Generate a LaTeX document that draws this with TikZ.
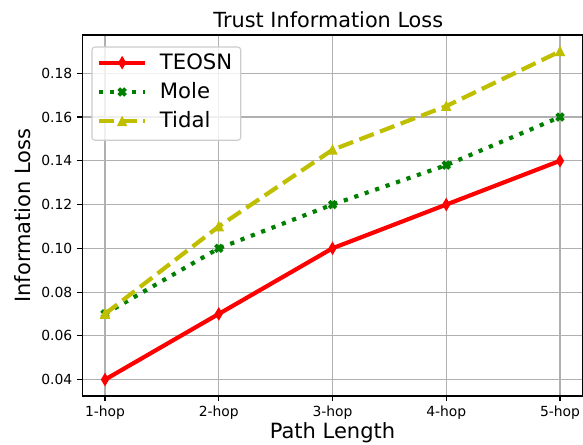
\documentclass[tikz,border=0pt]{standalone}
\usepackage{fontspec}
\setmainfont{DejaVu Sans}
\definecolor{mplyellow}{RGB}{191,191,0}
\definecolor{mplgreen}{RGB}{0,128,0}
\definecolor{gridgray}{HTML}{B0B0B0}
\definecolor{legedge}{HTML}{CCCCCC}
\tikzset{
  gridline/.style={gridgray, line width=1.1pt},
  spine/.style={black, line width=1.1pt, line cap=rect},
  tickmark/.style={black, line width=1.1pt},
  teosnline/.style={red, line width=4.17pt, line join=round, line cap=rect},
  moleline/.style={mplgreen, line width=4.17pt, line join=round, dash pattern=on 4.17pt off 6.88pt},
  tidalline/.style={mplyellow, line width=4.17pt, line join=round, dash pattern=on 15.43pt off 6.67pt},
  ticklab/.style={font=\fontsize{13.9}{16}\selectfont, inner sep=0pt},
  titlelab/.style={font=\fontsize{20.8}{25}\selectfont, inner sep=0pt},
  axislab/.style={font=\fontsize{21}{25}\selectfont, inner sep=0pt},
  leglab/.style={font=\fontsize{21.2}{25}\selectfont, inner sep=0pt, anchor=base west},
  legbox/.style={draw=legedge, fill=white, fill opacity=0.8, draw opacity=1, rounded corners=3pt, line width=1.1pt, inner sep=0pt},
  dmark/.pic={\path[fill=red, draw=red, line width=1.4pt, line join=miter] (0pt,5.5pt) -- (3.3pt,0pt) -- (0pt,-5.5pt) -- (-3.3pt,0pt) -- cycle;},
  xmark/.pic={\path[fill=mplgreen, draw=mplgreen, line width=1.2pt, rotate=45]
     (1.3pt,4.2pt) -- (1.3pt,1.3pt) -- (4.2pt,1.3pt) -- (4.2pt,-1.3pt) -- (1.3pt,-1.3pt) -- (1.3pt,-4.2pt)
     -- (-1.3pt,-4.2pt) -- (-1.3pt,-1.3pt) -- (-4.2pt,-1.3pt) -- (-4.2pt,1.3pt) -- (-1.3pt,1.3pt) -- (-1.3pt,4.2pt) -- cycle;},
  tmark/.pic={\path[fill=mplyellow, draw=mplyellow, line width=1.4pt, line join=miter] (0pt,4.15pt) -- (-4.15pt,-4.15pt) -- (4.15pt,-4.15pt) -- cycle;},
}
\begin{document}
\begin{tikzpicture}[x=1pt,y=1pt]
\useasboundingbox (0,0) rectangle (583,444);
\fill[white] (0,0) rectangle (583,444);

% data coordinates
\begin{scope}[shift={(-8.75pt,-23.107pt)}, x=113.75pt, y=2187.9pt]
  \coordinate (axSW) at (0.8,0.0325);
  \coordinate (axNE) at (5.2,0.1975);
  \foreach \i in {1,...,5} {
    \coordinate (gb\i) at (\i,0.0325);
    \coordinate (gt\i) at (\i,0.1975);
  }
  \foreach \v/\n in {0.04/1,0.06/2,0.08/3,0.10/4,0.12/5,0.14/6,0.16/7,0.18/8} {
    \coordinate (gl\n) at (0.8,\v);
    \coordinate (gr\n) at (5.2,\v);
  }
  \coordinate (t1) at (1,0.04);  \coordinate (t2) at (2,0.07);  \coordinate (t3) at (3,0.10);
  \coordinate (t4) at (4,0.12);  \coordinate (t5) at (5,0.14);
  \coordinate (m1) at (1,0.07);  \coordinate (m2) at (2,0.10);  \coordinate (m3) at (3,0.12);
  \coordinate (m4) at (4,0.138); \coordinate (m5) at (5,0.16);
  \coordinate (d1) at (1,0.07);  \coordinate (d2) at (2,0.11);  \coordinate (d3) at (3,0.145);
  \coordinate (d4) at (4,0.165); \coordinate (d5) at (5,0.19);
\end{scope}

% grid
\foreach \i in {1,...,5} \draw[gridline] (gb\i) -- (gt\i);
\foreach \n in {1,...,8} \draw[gridline] (gl\n) -- (gr\n);

% series
\draw[teosnline] (t1) -- (t2) -- (t3) -- (t4) -- (t5);
\foreach \i in {1,...,5} \pic at (t\i) {dmark};
\draw[moleline] (m1) -- (m2) -- (m3) -- (m4) -- (m5);
\foreach \i in {1,...,5} \pic at (m\i) {xmark};
\draw[tidalline] (d1) -- (d2) -- (d3) -- (d4) -- (d5);
\foreach \i in {1,...,5} \pic at (d\i) {tmark};

% spines
\draw[spine] (axSW) rectangle (axNE);

% x ticks
\foreach \i in {1,...,5} {
  \draw[tickmark] (gb\i) -- ++(0,-4.86);
  \node[ticklab, anchor=north] (xl\i) at ([yshift=-9.72pt]gb\i) {\i-hop};
}
% y ticks
\foreach \v/\n in {0.04/1,0.06/2,0.08/3,0.10/4,0.12/5,0.14/6,0.16/7,0.18/8} {
  \draw[tickmark] (gl\n) -- ++(-4.86,0);
  \node[ticklab, anchor=east] (yl\n) at ([xshift=-9.72pt]gl\n) {\v};
}

% title and axis labels
\node[titlelab, anchor=base] (title) at (328.3,416.7) {Trust Information Loss};
\node[axislab, anchor=base] (xlab) at (332.5,5.3) {Path Length};
\node[axislab, anchor=base, rotate=90] (ylab) at (30.7,228.5) {Information Loss};

% legend
\node[legbox, minimum width=148.7pt, minimum height=93.3pt] (legend) at (166.35,350.35) {};
\coordinate (h1a) at (99,381.3);  \coordinate (h1b) at (145.3,381.3);  \coordinate (h1m) at (122.15,381.3);
\coordinate (h2a) at (99,352);    \coordinate (h2b) at (145.3,352);    \coordinate (h2m) at (122.15,352);
\coordinate (h3a) at (99,322.7);  \coordinate (h3b) at (145.3,322.7);  \coordinate (h3m) at (122.15,322.7);
\draw[teosnline, line cap=butt] (h1a) -- (h1b); \pic at (h1m) {dmark};
\draw[moleline] (h2a) -- (h2b); \pic at (h2m) {xmark};
\draw[tidalline] (h3a) -- (h3b); \pic at (h3m) {tmark};
\node[leglab] (lg1) at (159.7,374.7) {TEOSN};
\node[leglab] (lg2) at (159.7,345.4) {Mole};
\node[leglab] (lg3) at (159.7,316.1) {Tidal};
\end{tikzpicture}
\end{document}
